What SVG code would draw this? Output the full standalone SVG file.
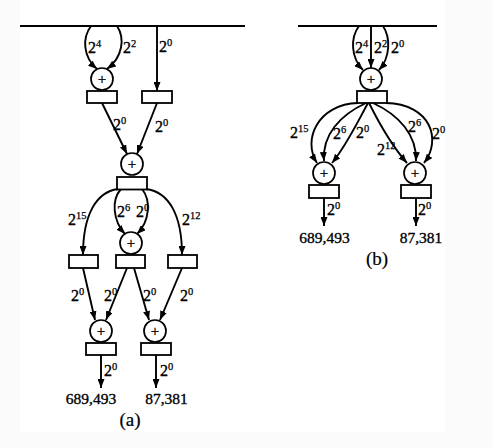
<svg xmlns="http://www.w3.org/2000/svg" width="493" height="448" viewBox="0 0 493 448">
<style>
.ln{fill:none;stroke:#000;stroke-width:1.9}
.ar{fill:none;stroke:#000;stroke-width:1.9;marker-end:url(#ah)}
.bx{fill:#fff;stroke:#000;stroke-width:1.8}
.ci{fill:#fff;stroke:#000;stroke-width:1.7}
.pl{font-family:"Liberation Serif",serif;font-size:15px;text-anchor:middle;fill:#000;stroke:#000;stroke-width:0.35}
.lb{font-family:"Liberation Serif",serif;font-size:16px;fill:#000;stroke:#000;stroke-width:0.35}
.sp{font-size:10.5px;stroke-width:0.25}
.nm{font-family:"Liberation Serif",serif;font-size:15.5px;text-anchor:middle;fill:#000;stroke:#000;stroke-width:0.35}
.cap{font-family:"Liberation Serif",serif;font-size:19px;text-anchor:middle;fill:#000;stroke:#000;stroke-width:0.2}
</style>
<defs>
<marker id="ah" markerUnits="userSpaceOnUse" markerWidth="9" markerHeight="7" refX="9" refY="3.5" orient="auto">
<path d="M0,0 L9,3.5 L0,7 z" fill="#000"/>
</marker>
</defs>
<rect width="493" height="448" fill="#fbfbfb"/>
<rect x="20" y="0" width="425" height="432" fill="#fff"/>

<g id="connectors">
<!-- (a) -->
<line class="ln" x1="20" y1="26" x2="245" y2="26"/>
<path class="ar" d="M91,26 C82,38 83,57 97,69"/>
<path class="ar" d="M117,26 C125,38 123,57 107,69"/>
<path class="ar" d="M157,26 L157,91"/>
<path class="ar" d="M102,103 L127,154"/>
<path class="ar" d="M157,103 L137,154"/>
<path class="ar" d="M118,189 C96,192 83,215 83,255"/>
<path class="ar" d="M146,189 C169,192 182,215 182,255"/>
<path class="ar" d="M121,189 C111,200 113,221 125,234"/>
<path class="ar" d="M142,189 C151,200 150,221 137,234"/>
<path class="ar" d="M83,268 L95,320"/>
<path class="ar" d="M127,268 L106,320"/>
<path class="ar" d="M134,268 L149,320"/>
<path class="ar" d="M182,268 L160,320"/>
<path class="ar" d="M101,355 L101,388"/>
<path class="ar" d="M156,355 L156,388"/>
<!-- (b) -->
<line class="ln" x1="298" y1="26" x2="437" y2="26"/>
<path class="ar" d="M359,26 C350,38 351,58 363,70"/>
<path class="ar" d="M371,26 L371,68"/>
<path class="ar" d="M383,26 C391,38 390,58 379,70"/>
<path class="ar" d="M358,103 C318,104 302,140 317,163"/>
<path class="ar" d="M366,103 C340,115 322,135 324,161"/>
<path class="ar" d="M368,103 C356,125 346,146 332,163"/>
<path class="ar" d="M369,103 C380,125 392,146 407,163"/>
<path class="ar" d="M373,103 C399,115 417,135 416,161"/>
<path class="ar" d="M386,103 C431,104 442,140 424,163"/>
<path class="ar" d="M324,198 L324,226"/>
<path class="ar" d="M416,198 L416,226"/>
</g>

<!-- (a) nodes -->
<g id="a-add1"><circle class="ci" cx="102" cy="79" r="11"/><text class="pl" x="102" y="84">+</text></g>
<g id="a-box1"><rect class="bx" x="87" y="91" width="30" height="12"/></g>
<g id="a-box2"><rect class="bx" x="142" y="91" width="30" height="12"/></g>
<g id="a-add2"><circle class="ci" cx="132" cy="164" r="11"/><text class="pl" x="132" y="169">+</text></g>
<g id="a-box3"><rect class="bx" x="117" y="177" width="30" height="12.5"/></g>
<g id="a-add3"><circle class="ci" cx="131" cy="243" r="11"/><text class="pl" x="131" y="248">+</text></g>
<g id="a-box4"><rect class="bx" x="69" y="255" width="29" height="13"/></g>
<g id="a-box5"><rect class="bx" x="116" y="255" width="29" height="13"/></g>
<g id="a-box6"><rect class="bx" x="168" y="255" width="29" height="13"/></g>
<g id="a-add4"><circle class="ci" cx="101" cy="331" r="11"/><text class="pl" x="101" y="336">+</text></g>
<g id="a-add5"><circle class="ci" cx="155" cy="331" r="11"/><text class="pl" x="155" y="336">+</text></g>
<g id="a-box7"><rect class="bx" x="86" y="343" width="30" height="12"/></g>
<g id="a-box8"><rect class="bx" x="141" y="343" width="30" height="12"/></g>

<!-- (b) nodes -->
<g id="b-add1"><circle class="ci" cx="371" cy="79" r="11"/><text class="pl" x="371" y="84">+</text></g>
<g id="b-box1"><rect class="bx" x="357" y="91" width="30" height="12"/></g>
<g id="b-add2"><circle class="ci" cx="324" cy="173" r="11"/><text class="pl" x="324" y="178">+</text></g>
<g id="b-add3"><circle class="ci" cx="415" cy="173" r="11"/><text class="pl" x="415" y="178">+</text></g>
<g id="b-box2"><rect class="bx" x="309" y="185" width="30" height="13"/></g>
<g id="b-box3"><rect class="bx" x="401" y="185" width="30" height="13"/></g>

<g id="labels">
<text class="lb" x="88" y="53">2<tspan class="sp" dy="-6">4</tspan></text>
<text class="lb" x="123" y="53">2<tspan class="sp" dy="-6">2</tspan></text>
<text class="lb" x="159" y="52">2<tspan class="sp" dy="-6">0</tspan></text>
<text class="lb" x="113" y="130">2<tspan class="sp" dy="-6">0</tspan></text>
<text class="lb" x="155" y="132">2<tspan class="sp" dy="-6">0</tspan></text>
<text class="lb" x="68" y="225">2<tspan class="sp" dy="-6">15</tspan></text>
<text class="lb" x="117" y="217">2<tspan class="sp" dy="-6">6</tspan></text>
<text class="lb" x="136" y="217">2<tspan class="sp" dy="-6">0</tspan></text>
<text class="lb" x="182" y="225">2<tspan class="sp" dy="-6">12</tspan></text>
<text class="lb" x="71" y="301">2<tspan class="sp" dy="-6">0</tspan></text>
<text class="lb" x="104" y="301">2<tspan class="sp" dy="-6">0</tspan></text>
<text class="lb" x="143" y="301">2<tspan class="sp" dy="-6">0</tspan></text>
<text class="lb" x="180" y="301">2<tspan class="sp" dy="-6">0</tspan></text>
<text class="lb" x="104" y="376">2<tspan class="sp" dy="-6">0</tspan></text>
<text class="lb" x="160" y="376">2<tspan class="sp" dy="-6">0</tspan></text>
<text class="nm" x="91" y="404">689,493</text>
<text class="nm" x="166.5" y="404">87,381</text>
<text class="cap" x="130" y="426">(a)</text>

<text class="lb" x="355" y="53">2<tspan class="sp" dy="-6">4</tspan></text>
<text class="lb" x="374" y="53">2<tspan class="sp" dy="-6">2</tspan></text>
<text class="lb" x="391" y="53">2<tspan class="sp" dy="-6">0</tspan></text>
<text class="lb" x="290" y="138">2<tspan class="sp" dy="-6">15</tspan></text>
<text class="lb" x="333" y="139">2<tspan class="sp" dy="-6">6</tspan></text>
<text class="lb" x="356" y="138">2<tspan class="sp" dy="-6">0</tspan></text>
<text class="lb" x="377" y="155">2<tspan class="sp" dy="-6">12</tspan></text>
<text class="lb" x="408" y="132">2<tspan class="sp" dy="-6">6</tspan></text>
<text class="lb" x="432" y="139">2<tspan class="sp" dy="-6">0</tspan></text>
<text class="lb" x="327" y="215">2<tspan class="sp" dy="-6">0</tspan></text>
<text class="lb" x="418" y="215">2<tspan class="sp" dy="-6">0</tspan></text>
<text class="nm" x="324.5" y="243">689,493</text>
<text class="nm" x="421" y="243">87,381</text>
<text class="cap" x="377" y="265">(b)</text>
</g>
</svg>
